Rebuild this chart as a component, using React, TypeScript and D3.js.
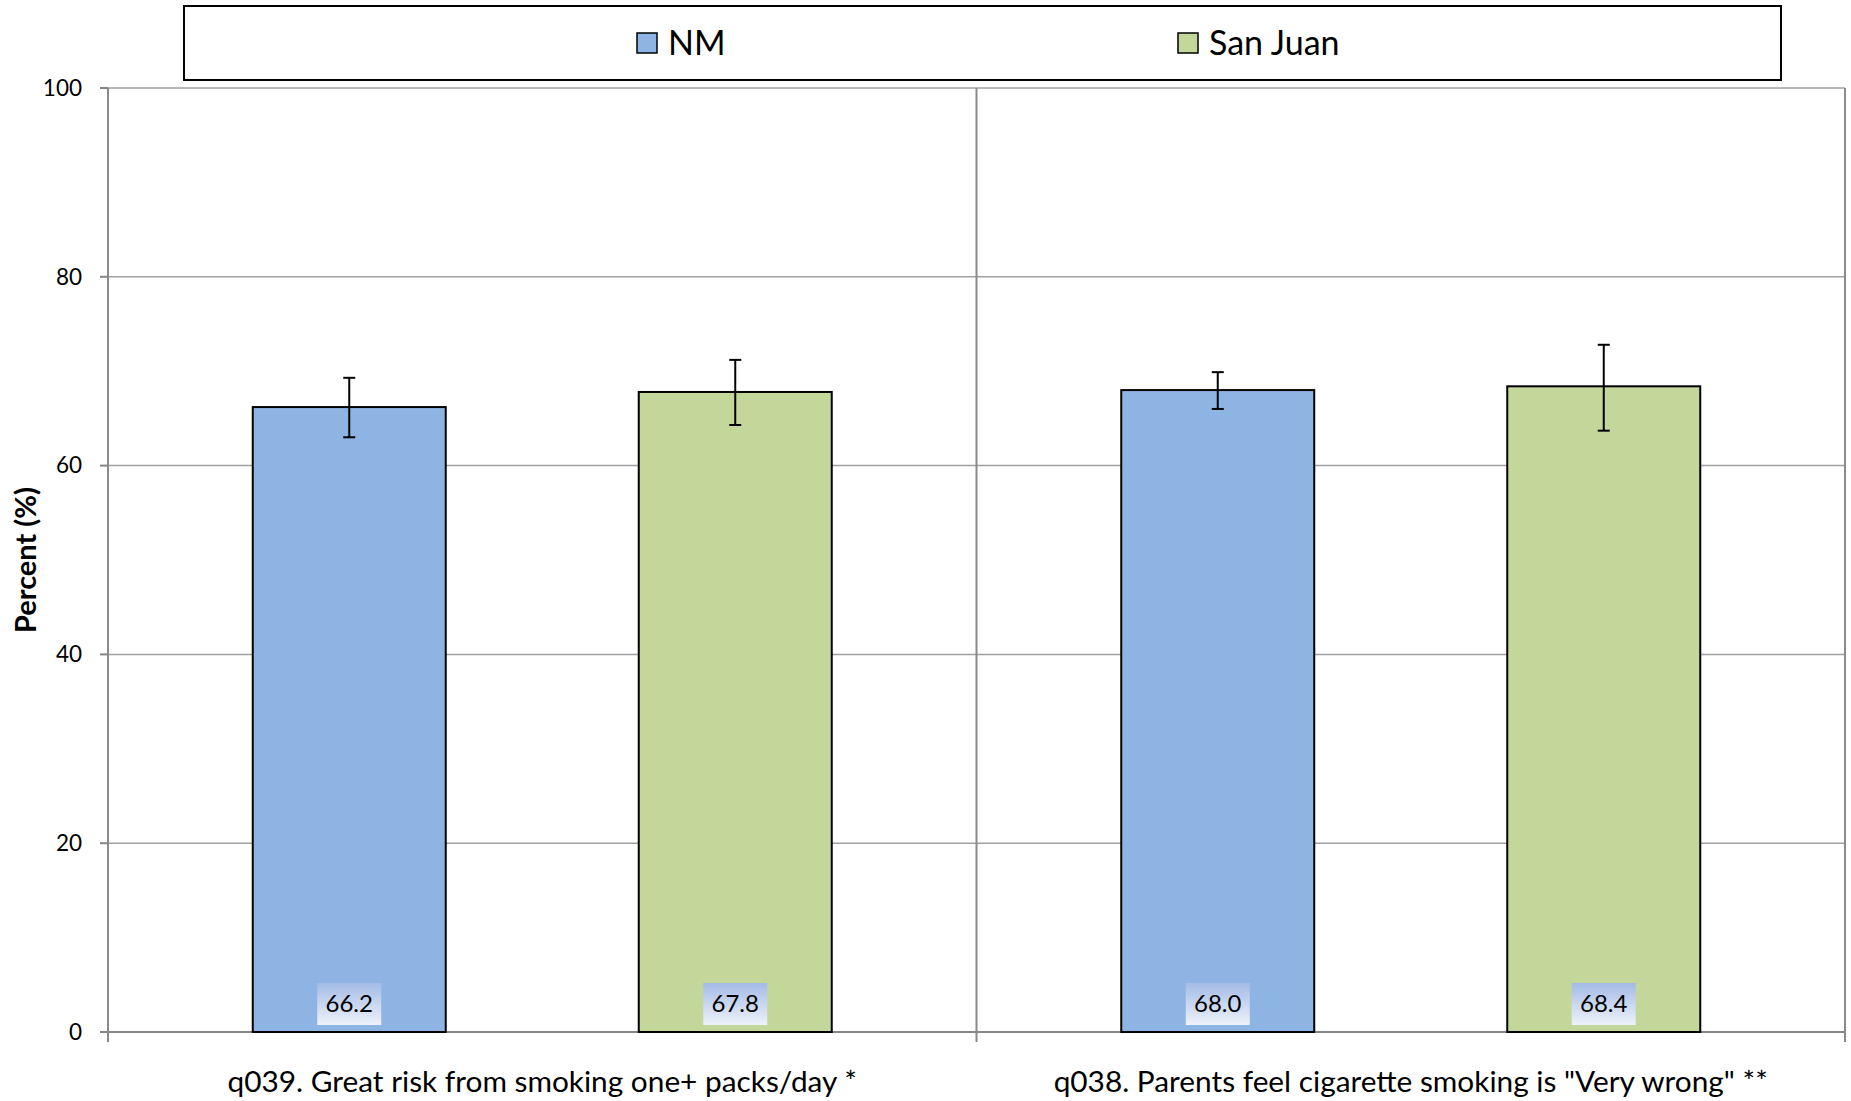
import React from "react";
import * as d3 from "d3";

const categories = [
  "q039. Great risk from smoking one+ packs/day *",
  'q038. Parents feel cigarette smoking is "Very wrong" **',
];
const seriesNames = ["NM", "San Juan"];
const seriesColors = ["#8eb4e3", "#c4d79b"];
const nmValues = [66.2, 68.0];
const nmLower = [63.0, 66.0];
const nmUpper = [69.3, 69.9];
const sjValues = [67.8, 68.4];
const sjLower = [64.3, 63.7];
const sjUpper = [71.2, 72.8];
const yTicks = [0, 20, 40, 60, 80, 100];

const W = 1851;
const H = 1101;
const M = { left: 108, right: 1845, top: 88, bottom: 1032 };
const FONT = "Lato, 'Open Sans', sans-serif";

export default function App() {
  const x0 = d3.scaleBand<string>().domain(categories).range([M.left, M.right]).padding(0);
  const x1 = d3
    .scaleBand<string>()
    .domain(seriesNames)
    .range([0, x0.bandwidth()])
    .paddingInner(0.5)
    .paddingOuter(0.375);
  const y = d3.scaleLinear().domain([0, 100]).range([M.bottom, M.top]);

  const seriesData = [
    { name: seriesNames[0], color: seriesColors[0], values: nmValues, lo: nmLower, hi: nmUpper },
    { name: seriesNames[1], color: seriesColors[1], values: sjValues, lo: sjLower, hi: sjUpper },
  ];

  const boundaries = [...categories.map((c) => x0(c)!), M.right];

  return (
    <div style={{ position: "absolute", left: 0, top: 0 }}>
      <svg width={W} height={H} style={{ display: "block", background: "#fff" }}>
        <defs>
          <linearGradient id="lblGrad" x1="0" y1="0" x2="0" y2="1">
            <stop offset="0%" stopColor="#a3bbe6" />
            <stop offset="100%" stopColor="#eef2fa" />
          </linearGradient>
        </defs>
        <rect x={0} y={0} width={W} height={H} fill="#fff" />

        {/* gridlines */}
        {yTicks.map((t) => (
          <line key={"g" + t} x1={M.left} x2={M.right} y1={y(t)} y2={y(t)} stroke="#a0a0a0" strokeWidth={1.5} />
        ))}
        {/* y tick marks */}
        {yTicks.map((t) => (
          <line key={"tk" + t} x1={M.left - 8} x2={M.left} y1={y(t)} y2={y(t)} stroke="#868686" strokeWidth={2} />
        ))}
        {/* vertical category boundaries */}
        {boundaries.map((bx, i) => (
          <line key={"vb" + i} x1={bx} x2={bx} y1={M.top} y2={M.bottom + 10} stroke="#8a8a8a" strokeWidth={2} />
        ))}
        {/* x axis */}
        <line x1={M.left} x2={M.right} y1={M.bottom} y2={M.bottom} stroke="#868686" strokeWidth={2} />

        {/* y tick labels */}
        {yTicks.map((t) => (
          <text key={"tl" + t} x={82} y={y(t)} dy="0.35em" textAnchor="end" fontFamily={FONT} fontSize={22.5} fill="#000">
            {t}
          </text>
        ))}

        {/* y title */}
        <text
          transform={`translate(36,${(M.top + M.bottom) / 2}) rotate(-90)`}
          textAnchor="middle"
          fontFamily={FONT}
          fontSize={29}
          fontWeight="bold"
          fill="#000"
        >
          Percent (%)
        </text>

        {/* bars */}
        {seriesData.map((s) =>
          categories.map((c, i) => {
            const bx = x0(c)! + x1(s.name)!;
            const bw = x1.bandwidth();
            const cx = bx + bw / 2;
            return (
              <g key={s.name + c}>
                <rect x={bx} y={y(s.values[i])} width={bw} height={M.bottom - y(s.values[i])} fill={s.color} stroke="#000" strokeWidth={2} />
                <line x1={cx} x2={cx} y1={y(s.hi[i])} y2={y(s.lo[i])} stroke="#000" strokeWidth={2} />
                <line x1={cx - 6} x2={cx + 6} y1={y(s.hi[i])} y2={y(s.hi[i])} stroke="#000" strokeWidth={2} />
                <line x1={cx - 6} x2={cx + 6} y1={y(s.lo[i])} y2={y(s.lo[i])} stroke="#000" strokeWidth={2} />
                <rect x={cx - 32} y={M.bottom - 49} width={64} height={42} fill="url(#lblGrad)" />
                <text x={cx} y={M.bottom - 28} dy="0.35em" textAnchor="middle" fontFamily={FONT} fontSize={24} fill="#000">
                  {s.values[i].toFixed(1)}
                </text>
              </g>
            );
          })
        )}

        {/* x labels */}
        {categories.map((c) => (
          <text key={"xl" + c} x={x0(c)! + x0.bandwidth() / 2} y={1092} textAnchor="middle" fontFamily={FONT} fontSize={29.8} fill="#000">
            {c}
          </text>
        ))}

        {/* legend */}
        <rect x={184} y={6} width={1597} height={74} fill="#fff" stroke="#000" strokeWidth={2} />
        {seriesData.map((s, i) => {
          const lx = [637, 1178][i];
          return (
            <g key={"lg" + s.name}>
              <rect x={lx} y={33} width={20} height={20} fill={s.color} stroke="#000" strokeWidth={1.5} />
              <text x={lx + 31} y={43} dy="0.35em" fontFamily={FONT} fontSize={34} fill="#000">
                {s.name}
              </text>
            </g>
          );
        })}
      </svg>
    </div>
  );
}
